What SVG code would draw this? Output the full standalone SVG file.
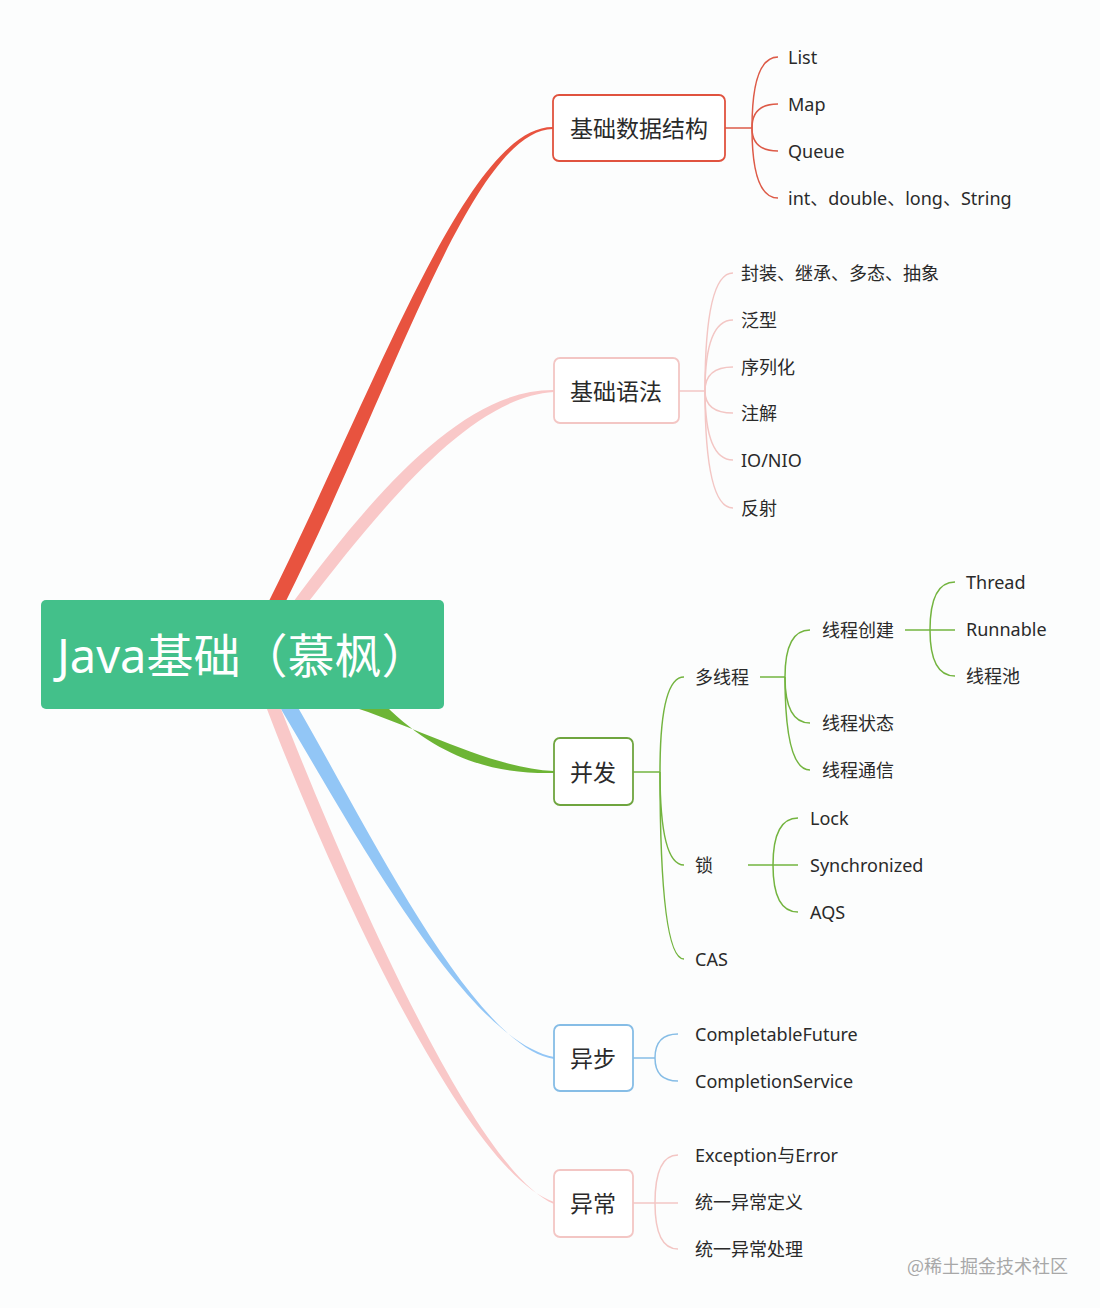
<svg xmlns="http://www.w3.org/2000/svg" width="1100" height="1308" viewBox="0 0 1100 1308">
<style>
.t{font-family:"Noto Sans","Noto Sans CJK SC",sans-serif;font-size:18px;fill:#2a2a2a;dominant-baseline:central}
.nt{font-family:"Noto Sans","Noto Sans CJK SC",sans-serif;font-size:23px;fill:#2a2a2a;text-anchor:middle;dominant-baseline:central}
.box{fill:#fff;stroke-width:1.8}
.c{fill:none;stroke-width:1.5}
.red{stroke:#dd5a47}
.pk{stroke:#f3c6c4}
.gr{stroke:#73b43f}
.bl{stroke:#86bde6}
</style>
<rect width="1100" height="1308" fill="#fcfdfd"/>
<g id="connectors">
  <path d="M267,605 C378,383 468,126 553,127 L553,129 C472,130 393,388 284,605 Z" fill="#e8533f"/>
  <path d="M291,605 C378,487 466,389 554,390 L554,392 C474,397 392,494 306,605 Z" fill="#f9c8c8"/>
  <path d="M347,705 C420,728 490,768 554,771 L554,773 C505,774 445,765 385,705 Z" fill="#6db535"/>
  <path d="M278,704 C352,828 466,1040 554,1057 L554,1059 C474,1046 370,832 296,704 Z" fill="#92c6f6"/>
  <path d="M265,704 C332,880 466,1172 554,1202 L554,1204 C474,1170 348,880 279,704 Z" fill="#f9c8c8"/>
  <g class="c red">
    <path d="M725,128 H752"/>
    <path d="M752,128 Q752,57 778,57"/>
    <path d="M752,128 Q752,104 778,104"/>
    <path d="M752,128 Q752,151 778,151"/>
    <path d="M752,128 Q752,198 778,198"/>
  </g>
  <g class="c pk">
    <path d="M679,391 H705"/>
    <path d="M705,391 Q705,273 733,273"/>
    <path d="M705,391 Q705,320 733,320"/>
    <path d="M705,391 Q705,367 733,367"/>
    <path d="M705,391 Q705,413 733,413"/>
    <path d="M705,391 Q705,460 733,460"/>
    <path d="M705,391 Q705,508 733,508"/>
    <path d="M633,1203 H678"/>
    <path d="M655,1203 Q655,1155 678,1155"/>
    <path d="M655,1203 Q655,1249 678,1249"/>
  </g>
  <g class="c gr">
    <path d="M633,772 H660"/>
    <path d="M660,772 Q660,677 684,677"/>
    <path d="M660,772 Q660,865 684,865"/>
    <path d="M660,772 Q660,959 684,959"/>
    <path d="M760,677 H785"/>
    <path d="M785,677 Q785,630 810,630"/>
    <path d="M785,677 Q785,723 810,723"/>
    <path d="M785,677 Q785,770 810,770"/>
    <path d="M905,630 H955"/>
    <path d="M930,630 Q930,582 955,582"/>
    <path d="M930,630 Q930,676 955,676"/>
    <path d="M748,865 H798"/>
    <path d="M773,865 Q773,818 798,818"/>
    <path d="M773,865 Q773,912 798,912"/>
  </g>
  <g class="c bl">
    <path d="M633,1058 H655"/>
    <path d="M655,1058 Q655,1034 678,1034"/>
    <path d="M655,1058 Q655,1081 678,1081"/>
  </g>
</g>
<g id="root">
  <rect x="41" y="600" width="403" height="109" rx="5" fill="#43c08a"/>
  <text x="57" y="655" font-family="Noto Sans, Noto Sans CJK TC, sans-serif" font-size="47" fill="#fff" dominant-baseline="central">Java基础（慕枫）</text>
</g>
<g id="n-jichushuju">
  <rect class="box" x="553" y="95" width="172" height="66" rx="6" stroke="#e0533f"/>
  <text class="nt" x="639" y="128">基础数据结构</text>
</g>
<g id="n-list"><text class="t" x="788" y="57">List</text></g>
<g id="n-map"><text class="t" x="788" y="104">Map</text></g>
<g id="n-queue"><text class="t" x="788" y="151">Queue</text></g>
<g id="n-prim"><text class="t" x="788" y="198">int、double、long、String</text></g>
<g id="n-yufa">
  <rect class="box" x="554" y="358" width="125" height="65" rx="6" stroke="#f3c6c4"/>
  <text class="nt" x="616" y="391">基础语法</text>
</g>
<g id="n-oop"><text class="t" x="741" y="273">封装、继承、多态、抽象</text></g>
<g id="n-generic"><text class="t" x="741" y="320">泛型</text></g>
<g id="n-serial"><text class="t" x="741" y="367">序列化</text></g>
<g id="n-anno"><text class="t" x="741" y="413">注解</text></g>
<g id="n-io"><text class="t" x="741" y="460">IO/NIO</text></g>
<g id="n-reflect"><text class="t" x="741" y="508">反射</text></g>
<g id="n-bingfa">
  <rect class="box" x="554" y="738" width="79" height="67" rx="6" stroke="#6fa53f"/>
  <text class="nt" x="593" y="772">并发</text>
</g>
<g id="n-multi"><text class="t" x="695" y="677">多线程</text></g>
<g id="n-create"><text class="t" x="822" y="630">线程创建</text></g>
<g id="n-thread"><text class="t" x="966" y="582">Thread</text></g>
<g id="n-runnable"><text class="t" x="966" y="629">Runnable</text></g>
<g id="n-pool"><text class="t" x="966" y="676">线程池</text></g>
<g id="n-state"><text class="t" x="822" y="723">线程状态</text></g>
<g id="n-comm"><text class="t" x="822" y="770">线程通信</text></g>
<g id="n-lock"><text class="t" x="695" y="865">锁</text></g>
<g id="n-Lock"><text class="t" x="810" y="818">Lock</text></g>
<g id="n-sync"><text class="t" x="810" y="865">Synchronized</text></g>
<g id="n-aqs"><text class="t" x="810" y="912">AQS</text></g>
<g id="n-cas"><text class="t" x="695" y="959">CAS</text></g>
<g id="n-yibu">
  <rect class="box" x="554" y="1025" width="79" height="66" rx="6" stroke="#86bde6"/>
  <text class="nt" x="593" y="1058">异步</text>
</g>
<g id="n-cf"><text class="t" x="695" y="1034">CompletableFuture</text></g>
<g id="n-cs"><text class="t" x="695" y="1081">CompletionService</text></g>
<g id="n-yichang">
  <rect class="box" x="554" y="1170" width="79" height="67" rx="6" stroke="#f3c6c4"/>
  <text class="nt" x="593" y="1203">异常</text>
</g>
<g id="n-ex"><text class="t" x="695" y="1155">Exception与Error</text></g>
<g id="n-def"><text class="t" x="695" y="1202">统一异常定义</text></g>
<g id="n-handle"><text class="t" x="695" y="1249">统一异常处理</text></g>
<text x="907" y="1265" font-family="Noto Sans CJK SC, sans-serif" font-size="18" fill="#a8a8a8" dominant-baseline="central">@稀土掘金技术社区</text>
</svg>
